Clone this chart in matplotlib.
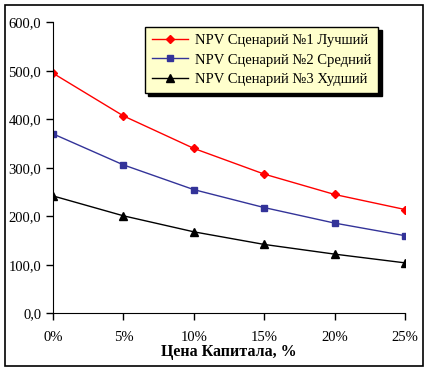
import matplotlib.pyplot as plt
from matplotlib.patches import Rectangle

plt.rcParams['font.family'] = ['Liberation Serif', 'DejaVu Serif']

rates = ['0%', '5%', '10%', '15%', '20%', '25%']
best = [495, 407, 340, 287, 245, 214]
mid = [370, 306, 255, 218, 186, 160]
worst = [242, 201, 168, 142, 122, 104]
names = ['NPV Сценарий №1 Лучший', 'NPV Сценарий №2 Средний', 'NPV Сценарий №3 Худший']
yticks = [0, 100, 200, 300, 400, 500, 600]

fig = plt.figure(figsize=(4.28, 3.70), dpi=100)
fig.patches.append(Rectangle((5 / 428, 4 / 370), 418 / 428, 361 / 370, transform=fig.transFigure,
                             fill=False, edgecolor='black', linewidth=1.2))
ax = fig.add_axes([53 / 428, 1 - 313.3 / 370, 352 / 428, 291 / 370])

x = list(range(len(rates)))
ax.plot(x, best, color='#FF0000', marker='D', markersize=4.5, linewidth=1, label=names[0])
ax.plot(x, mid, color='#333399', marker='s', markersize=5, linewidth=1, label=names[1])
ax.plot(x, worst, color='#000000', marker='^', markersize=5.5, linewidth=1, label=names[2])

ax.set_xlim(0, 5)
ax.set_ylim(0, 600)
ax.set_xticks(x)
ax.set_xticklabels(rates, fontsize=10.5)
ax.set_yticks(yticks)
ax.set_yticklabels([f'{v:.1f}'.replace('.', ',') for v in yticks], fontsize=10.5)
ax.tick_params(direction='out', length=5, width=1)
ax.tick_params(axis='x', pad=8)
for s in ['top', 'right']:
    ax.spines[s].set_visible(False)
ax.set_xlabel('Цена Капитала, %', fontsize=11.5, fontweight='bold', labelpad=0)

leg = ax.legend(loc='upper left', bbox_to_anchor=((145 - 53) / 352, (313.3 - 27) / 291),
                borderaxespad=0, fontsize=10.5, frameon=True, fancybox=False,
                shadow={'color': 'black', 'alpha': 1, 'ox': 2.5, 'oy': -2.5},
                borderpad=0.45, handlelength=2.5, handletextpad=0.5, labelspacing=0.45)
leg.get_frame().set_facecolor('#FFFFCC')
leg.get_frame().set_edgecolor('black')
leg.get_frame().set_linewidth(1)

fig.savefig('out.png', dpi=100)
